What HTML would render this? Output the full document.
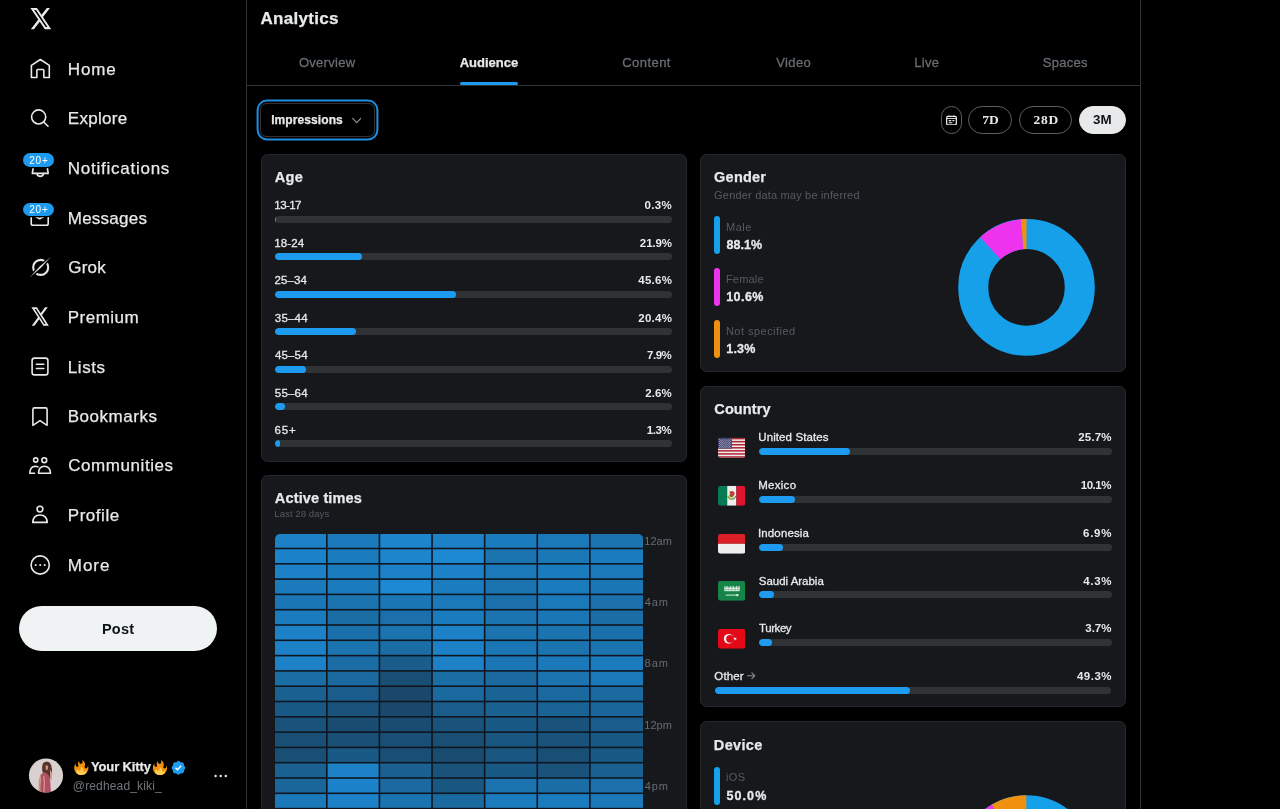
<!DOCTYPE html>
<html lang="en">
<head>
<meta charset="utf-8">
<title>Analytics / X</title>
<style>
*{box-sizing:border-box;margin:0;padding:0}
html,body{width:1280px;height:809px;overflow:hidden;background:#000}
body{position:relative;font-family:"Liberation Sans",sans-serif;color:#e7e9ea;-webkit-font-smoothing:antialiased}
.abs{position:absolute}
.t{position:absolute;white-space:nowrap;display:block}
.vline{position:absolute;top:0;width:1px;height:809px;background:#2f3336}
.hline{position:absolute;height:1px;background:#2f3336}
.card{position:absolute;background:#16181c;border:1px solid #25282d;border-radius:6.5px}
.trk{position:absolute;background:#2f3336;border-radius:4px;overflow:hidden}
.fil{height:100%;background:#1d9bf0;border-radius:4px}
.lg{position:absolute;width:6px;height:38px;border-radius:3px}
.pill{position:absolute;top:106.2px;height:27.4px;border:1px solid #5b6066;border-radius:14px}
.badge{position:absolute;left:22.7px;width:31.4px;height:13.4px;border-radius:7px;background:#1d9bf0;box-shadow:0 0 0 1.2px #000}
</style>
</head>
<body>
<!-- column borders -->
<div class="vline" style="left:246px"></div>
<div class="vline" style="left:1140px"></div>
<div class="hline" style="left:247px;top:85px;width:893px"></div>
<!-- active tab underline -->
<div class="abs" style="left:460px;top:81.7px;width:58px;height:3.6px;border-radius:1.6px;background:#1d9bf0"></div>

<!-- Impressions select -->
<div class="abs" style="left:260px;top:102.5px;width:114.5px;height:34.5px;border:1px solid #38302e;border-radius:7px;box-shadow:0 0 0 1.4px #000,0 0 0 3.4px #1d8fe0"></div>
<svg class="abs" style="left:351.6px;top:116.5px" width="9.4" height="7.6" viewBox="0 0 9.4 7.6"><path d="M0.7 1.4L4.7 5.6L8.7 1.4" fill="none" stroke="#8b9096" stroke-width="1.2" stroke-linecap="round" stroke-linejoin="round"/></svg>

<!-- range pills -->
<div class="pill" style="left:941px;width:20.6px"></div>
<div class="pill" style="left:968.1px;width:44.4px"></div>
<div class="pill" style="left:1019.1px;width:53.3px"></div>
<div class="pill" style="left:1078.8px;width:47.3px;background:#e7e9ea;border-color:#e7e9ea"></div>
<svg class="abs" style="left:945.8px;top:114.5px" width="11" height="10.6" viewBox="0 0 11 10.6"><rect x="0.65" y="1.5" width="9.7" height="8.4" rx="1.3" fill="none" stroke="#e7e9ea" stroke-width="1.25"/><path d="M0.7 3.5h9.6" stroke="#e7e9ea" stroke-width="0.9"/><path d="M2.9 0.4v1.4M8.1 0.4v1.4" stroke="#e7e9ea" stroke-width="1.2"/><path d="M2.7 5.7h2.6M6.4 5.7h1.9M2.7 7.8h3.6" stroke="#e7e9ea" stroke-width="1.15"/></svg>

<!-- cards -->
<div class="card" style="left:260.5px;top:154px;width:426px;height:307.5px"></div>
<div class="card" style="left:260.5px;top:475.3px;width:426px;height:360px"></div>
<div class="card" style="left:700px;top:154px;width:426px;height:218px"></div>
<div class="card" style="left:700px;top:386.2px;width:426px;height:321px"></div>
<div class="card" style="left:700px;top:721px;width:426px;height:120px"></div>

<div class="trk" style="left:275.00px;top:216.00px;width:397.00px;height:7.00px"><div class="fil" style="width:1.19px"></div></div>
<div class="trk" style="left:275.00px;top:253.40px;width:397.00px;height:7.00px"><div class="fil" style="width:86.94px"></div></div>
<div class="trk" style="left:275.00px;top:290.80px;width:397.00px;height:7.00px"><div class="fil" style="width:181.03px"></div></div>
<div class="trk" style="left:275.00px;top:328.20px;width:397.00px;height:7.00px"><div class="fil" style="width:80.99px"></div></div>
<div class="trk" style="left:275.00px;top:365.60px;width:397.00px;height:7.00px"><div class="fil" style="width:31.36px"></div></div>
<div class="trk" style="left:275.00px;top:403.00px;width:397.00px;height:7.00px"><div class="fil" style="width:10.32px"></div></div>
<div class="trk" style="left:275.00px;top:440.40px;width:397.00px;height:7.00px"><div class="fil" style="width:5.16px"></div></div>
<div class="trk" style="left:759.00px;top:448.30px;width:352.50px;height:7.00px"><div class="fil" style="width:90.59px"></div></div>
<div class="trk" style="left:759.00px;top:495.98px;width:352.50px;height:7.00px"><div class="fil" style="width:35.60px"></div></div>
<div class="trk" style="left:759.00px;top:543.66px;width:352.50px;height:7.00px"><div class="fil" style="width:24.32px"></div></div>
<div class="trk" style="left:759.00px;top:591.34px;width:352.50px;height:7.00px"><div class="fil" style="width:15.16px"></div></div>
<div class="trk" style="left:759.00px;top:639.02px;width:352.50px;height:7.00px"><div class="fil" style="width:13.04px"></div></div>
<div class="trk" style="left:714.60px;top:686.70px;width:396.90px;height:7.00px"><div class="fil" style="width:195.67px"></div></div>
<svg class="abs" style="left:274.80px;top:534.00px" width="368.30" height="277.00" viewBox="0 0 368.30 277.00"><defs><clipPath id="hmc"><path d="M0 5a5 5 0 0 1 5-5H363.30a5 5 0 0 1 5 5V277.00H0z"/></clipPath></defs><g clip-path="url(#hmc)"><rect x="0" y="0" width="368.30" height="277.00" fill="#0f1620"/><rect x="0.00" y="0.00" width="51.01" height="13.70" fill="#1c81c6"/><rect x="52.61" y="0.00" width="51.01" height="13.70" fill="#1b7abb"/><rect x="105.23" y="0.00" width="51.01" height="13.70" fill="#1c85cc"/><rect x="157.84" y="0.00" width="51.01" height="13.70" fill="#1c81c6"/><rect x="210.46" y="0.00" width="51.01" height="13.70" fill="#1b7cbd"/><rect x="263.07" y="0.00" width="51.01" height="13.70" fill="#1b79b9"/><rect x="315.69" y="0.00" width="52.61" height="13.70" fill="#1b74b0"/><rect x="0.00" y="15.30" width="51.01" height="13.70" fill="#1c83ca"/><rect x="52.61" y="15.30" width="51.01" height="13.70" fill="#1b7cbd"/><rect x="105.23" y="15.30" width="51.01" height="13.70" fill="#1c85cc"/><rect x="157.84" y="15.30" width="51.01" height="13.70" fill="#1c89d2"/><rect x="210.46" y="15.30" width="51.01" height="13.70" fill="#1b74b0"/><rect x="263.07" y="15.30" width="51.01" height="13.70" fill="#1b78b7"/><rect x="315.69" y="15.30" width="52.61" height="13.70" fill="#1b7cbd"/><rect x="0.00" y="30.60" width="51.01" height="13.70" fill="#1c81c6"/><rect x="52.61" y="30.60" width="51.01" height="13.70" fill="#1b7cbd"/><rect x="105.23" y="30.60" width="51.01" height="13.70" fill="#1c81c6"/><rect x="157.84" y="30.60" width="51.01" height="13.70" fill="#1c81c6"/><rect x="210.46" y="30.60" width="51.01" height="13.70" fill="#1b79b9"/><rect x="263.07" y="30.60" width="51.01" height="13.70" fill="#1b7cbd"/><rect x="315.69" y="30.60" width="52.61" height="13.70" fill="#1b79b9"/><rect x="0.00" y="45.90" width="51.01" height="13.70" fill="#1b7abb"/><rect x="52.61" y="45.90" width="51.01" height="13.70" fill="#1b7cbd"/><rect x="105.23" y="45.90" width="51.01" height="13.70" fill="#1c89d2"/><rect x="157.84" y="45.90" width="51.01" height="13.70" fill="#1b7dbf"/><rect x="210.46" y="45.90" width="51.01" height="13.70" fill="#1b74b0"/><rect x="263.07" y="45.90" width="51.01" height="13.70" fill="#1b7cbd"/><rect x="315.69" y="45.90" width="52.61" height="13.70" fill="#1b76b5"/><rect x="0.00" y="61.20" width="51.01" height="13.70" fill="#1b76b5"/><rect x="52.61" y="61.20" width="51.01" height="13.70" fill="#1b74b0"/><rect x="105.23" y="61.20" width="51.01" height="13.70" fill="#1b76b5"/><rect x="157.84" y="61.20" width="51.01" height="13.70" fill="#1b79b9"/><rect x="210.46" y="61.20" width="51.01" height="13.70" fill="#1b70ab"/><rect x="263.07" y="61.20" width="51.01" height="13.70" fill="#1b79b9"/><rect x="315.69" y="61.20" width="52.61" height="13.70" fill="#1b70ab"/><rect x="0.00" y="76.50" width="51.01" height="13.70" fill="#1b7cbd"/><rect x="52.61" y="76.50" width="51.01" height="13.70" fill="#1b6da6"/><rect x="105.23" y="76.50" width="51.01" height="13.70" fill="#1b70ab"/><rect x="157.84" y="76.50" width="51.01" height="13.70" fill="#1b7cbd"/><rect x="210.46" y="76.50" width="51.01" height="13.70" fill="#1b74b0"/><rect x="263.07" y="76.50" width="51.01" height="13.70" fill="#1b76b5"/><rect x="315.69" y="76.50" width="52.61" height="13.70" fill="#1b6da6"/><rect x="0.00" y="91.80" width="51.01" height="13.70" fill="#1c81c6"/><rect x="52.61" y="91.80" width="51.01" height="13.70" fill="#1b70ab"/><rect x="105.23" y="91.80" width="51.01" height="13.70" fill="#1b74b0"/><rect x="157.84" y="91.80" width="51.01" height="13.70" fill="#1c81c6"/><rect x="210.46" y="91.80" width="51.01" height="13.70" fill="#1b74b0"/><rect x="263.07" y="91.80" width="51.01" height="13.70" fill="#1b74b0"/><rect x="315.69" y="91.80" width="52.61" height="13.70" fill="#1b70ab"/><rect x="0.00" y="107.10" width="51.01" height="13.70" fill="#1c81c6"/><rect x="52.61" y="107.10" width="51.01" height="13.70" fill="#1b74b0"/><rect x="105.23" y="107.10" width="51.01" height="13.70" fill="#1b6da6"/><rect x="157.84" y="107.10" width="51.01" height="13.70" fill="#1c81c6"/><rect x="210.46" y="107.10" width="51.01" height="13.70" fill="#1b76b5"/><rect x="263.07" y="107.10" width="51.01" height="13.70" fill="#1b74b0"/><rect x="315.69" y="107.10" width="52.61" height="13.70" fill="#1b74b0"/><rect x="0.00" y="122.40" width="51.01" height="13.70" fill="#1c81c6"/><rect x="52.61" y="122.40" width="51.01" height="13.70" fill="#1b6da6"/><rect x="105.23" y="122.40" width="51.01" height="13.70" fill="#1a5c8b"/><rect x="157.84" y="122.40" width="51.01" height="13.70" fill="#1c81c6"/><rect x="210.46" y="122.40" width="51.01" height="13.70" fill="#1b76b5"/><rect x="263.07" y="122.40" width="51.01" height="13.70" fill="#1b79b9"/><rect x="315.69" y="122.40" width="52.61" height="13.70" fill="#1b7cbd"/><rect x="0.00" y="137.70" width="51.01" height="13.70" fill="#1b6da6"/><rect x="52.61" y="137.70" width="51.01" height="13.70" fill="#1a6aa0"/><rect x="105.23" y="137.70" width="51.01" height="13.70" fill="#194f75"/><rect x="157.84" y="137.70" width="51.01" height="13.70" fill="#1b6da6"/><rect x="210.46" y="137.70" width="51.01" height="13.70" fill="#1a6aa0"/><rect x="263.07" y="137.70" width="51.01" height="13.70" fill="#1b74b0"/><rect x="315.69" y="137.70" width="52.61" height="13.70" fill="#1b79b9"/><rect x="0.00" y="153.00" width="51.01" height="13.70" fill="#1a6090"/><rect x="52.61" y="153.00" width="51.01" height="13.70" fill="#1a5c8b"/><rect x="105.23" y="153.00" width="51.01" height="13.70" fill="#19486a"/><rect x="157.84" y="153.00" width="51.01" height="13.70" fill="#1a6aa0"/><rect x="210.46" y="153.00" width="51.01" height="13.70" fill="#1a6395"/><rect x="263.07" y="153.00" width="51.01" height="13.70" fill="#1a6aa0"/><rect x="315.69" y="153.00" width="52.61" height="13.70" fill="#1a6aa0"/><rect x="0.00" y="168.30" width="51.01" height="13.70" fill="#195985"/><rect x="52.61" y="168.30" width="51.01" height="13.70" fill="#19527a"/><rect x="105.23" y="168.30" width="51.01" height="13.70" fill="#19486a"/><rect x="157.84" y="168.30" width="51.01" height="13.70" fill="#1a5c8b"/><rect x="210.46" y="168.30" width="51.01" height="13.70" fill="#1a6090"/><rect x="263.07" y="168.30" width="51.01" height="13.70" fill="#1a6395"/><rect x="315.69" y="168.30" width="52.61" height="13.70" fill="#1a669b"/><rect x="0.00" y="183.60" width="51.01" height="13.70" fill="#19527a"/><rect x="52.61" y="183.60" width="51.01" height="13.70" fill="#194c70"/><rect x="105.23" y="183.60" width="51.01" height="13.70" fill="#194c70"/><rect x="157.84" y="183.60" width="51.01" height="13.70" fill="#19527a"/><rect x="210.46" y="183.60" width="51.01" height="13.70" fill="#195985"/><rect x="263.07" y="183.60" width="51.01" height="13.70" fill="#19527a"/><rect x="315.69" y="183.60" width="52.61" height="13.70" fill="#1a5c8b"/><rect x="0.00" y="198.90" width="51.01" height="13.70" fill="#194f75"/><rect x="52.61" y="198.90" width="51.01" height="13.70" fill="#194f75"/><rect x="105.23" y="198.90" width="51.01" height="13.70" fill="#194f75"/><rect x="157.84" y="198.90" width="51.01" height="13.70" fill="#194f75"/><rect x="210.46" y="198.90" width="51.01" height="13.70" fill="#195680"/><rect x="263.07" y="198.90" width="51.01" height="13.70" fill="#19527a"/><rect x="315.69" y="198.90" width="52.61" height="13.70" fill="#195985"/><rect x="0.00" y="214.20" width="51.01" height="13.70" fill="#194f75"/><rect x="52.61" y="214.20" width="51.01" height="13.70" fill="#195985"/><rect x="105.23" y="214.20" width="51.01" height="13.70" fill="#194f75"/><rect x="157.84" y="214.20" width="51.01" height="13.70" fill="#194c70"/><rect x="210.46" y="214.20" width="51.01" height="13.70" fill="#195680"/><rect x="263.07" y="214.20" width="51.01" height="13.70" fill="#194f75"/><rect x="315.69" y="214.20" width="52.61" height="13.70" fill="#195985"/><rect x="0.00" y="229.50" width="51.01" height="13.70" fill="#1a6090"/><rect x="52.61" y="229.50" width="51.01" height="13.70" fill="#1c81c6"/><rect x="105.23" y="229.50" width="51.01" height="13.70" fill="#1a6090"/><rect x="157.84" y="229.50" width="51.01" height="13.70" fill="#19527a"/><rect x="210.46" y="229.50" width="51.01" height="13.70" fill="#195985"/><rect x="263.07" y="229.50" width="51.01" height="13.70" fill="#19527a"/><rect x="315.69" y="229.50" width="52.61" height="13.70" fill="#1a6090"/><rect x="0.00" y="244.80" width="51.01" height="13.70" fill="#1a669b"/><rect x="52.61" y="244.80" width="51.01" height="13.70" fill="#1c83ca"/><rect x="105.23" y="244.80" width="51.01" height="13.70" fill="#1a6aa0"/><rect x="157.84" y="244.80" width="51.01" height="13.70" fill="#195680"/><rect x="210.46" y="244.80" width="51.01" height="13.70" fill="#1b74b0"/><rect x="263.07" y="244.80" width="51.01" height="13.70" fill="#1b6da6"/><rect x="315.69" y="244.80" width="52.61" height="13.70" fill="#1b70ab"/><rect x="0.00" y="260.10" width="51.01" height="13.70" fill="#1b79b9"/><rect x="52.61" y="260.10" width="51.01" height="13.70" fill="#1c81c6"/><rect x="105.23" y="260.10" width="51.01" height="13.70" fill="#1b74b0"/><rect x="157.84" y="260.10" width="51.01" height="13.70" fill="#1a6aa0"/><rect x="210.46" y="260.10" width="51.01" height="13.70" fill="#1b7cbd"/><rect x="263.07" y="260.10" width="51.01" height="13.70" fill="#1b7cbd"/><rect x="315.69" y="260.10" width="52.61" height="13.70" fill="#1b79b9"/></g></svg>
<svg class="abs" style="left:0;top:0" width="1280" height="809" viewBox="0 0 1280 809"><circle cx="1026.5" cy="287.4" r="53.3" fill="none" stroke="#16a0ea" stroke-width="30"/><path d="M980.06 237.32A68.3 68.3 0 0 1 1020.93 219.33L1023.38 249.23A38.3 38.3 0 0 0 1000.46 259.32Z" fill="#ee33ee"/><path d="M1020.93 219.33A68.3 68.3 0 0 1 1026.50 219.10L1026.50 249.10A38.3 38.3 0 0 0 1023.38 249.23Z" fill="#f0900f"/><circle cx="1026.3" cy="863.5" r="53.3" fill="none" stroke="#16a0ea" stroke-width="30"/><path d="M1026.30 931.80A68.3 68.3 0 0 1 991.90 804.49L1007.01 830.41A38.3 38.3 0 0 0 1026.30 901.80Z" fill="#ee33ee"/><path d="M991.90 804.49A68.3 68.3 0 0 1 1026.30 795.20L1026.30 825.20A38.3 38.3 0 0 0 1007.01 830.41Z" fill="#f0900f"/></svg>
<div class="lg" style="left:714.1px;top:216px;background:#16a0ea"></div><div class="lg" style="left:714.1px;top:268px;background:#ee33ee"></div><div class="lg" style="left:714.1px;top:320px;background:#f0900f"></div><div class="lg" style="left:714.1px;top:767px;background:#16a0ea"></div>

<!-- Other arrow -->
<svg class="abs" style="left:747.4px;top:672.4px" width="8.6" height="7.6" viewBox="0 0 8.6 7.6"><path d="M0.4 3.8H7.8M4.9 0.9L7.8 3.8L4.9 6.7" fill="none" stroke="#8b9096" stroke-width="1.1" stroke-linecap="round" stroke-linejoin="round"/></svg>

<svg class="abs" style="left:717.8px;top:434.30px" width="27.6" height="27.6" viewBox="0 0 36 36"><defs><clipPath id="fc0"><rect x="0" y="5" width="36" height="26" rx="4"/></clipPath></defs><g clip-path="url(#fc0)"><rect x="0" y="5" width="36" height="26" fill="#eee"/><rect x="0" y="5" width="36" height="2" fill="#b22334"/><rect x="0" y="9" width="36" height="2" fill="#b22334"/><rect x="0" y="13" width="36" height="2" fill="#b22334"/><rect x="0" y="17" width="36" height="2" fill="#b22334"/><rect x="0" y="21" width="36" height="2" fill="#b22334"/><rect x="0" y="25" width="36" height="2" fill="#b22334"/><rect x="0" y="29" width="36" height="2" fill="#b22334"/><rect x="0" y="5" width="18" height="14" fill="#3c3b6e"/><g fill="#fff"><circle cx="2.2" cy="6.7" r="0.62"/><circle cx="5.0" cy="6.7" r="0.62"/><circle cx="7.7" cy="6.7" r="0.62"/><circle cx="10.4" cy="6.7" r="0.62"/><circle cx="13.2" cy="6.7" r="0.62"/><circle cx="15.9" cy="6.7" r="0.62"/><circle cx="2.2" cy="9.4" r="0.62"/><circle cx="5.0" cy="9.4" r="0.62"/><circle cx="7.7" cy="9.4" r="0.62"/><circle cx="10.4" cy="9.4" r="0.62"/><circle cx="13.2" cy="9.4" r="0.62"/><circle cx="15.9" cy="9.4" r="0.62"/><circle cx="2.2" cy="12.1" r="0.62"/><circle cx="5.0" cy="12.1" r="0.62"/><circle cx="7.7" cy="12.1" r="0.62"/><circle cx="10.4" cy="12.1" r="0.62"/><circle cx="13.2" cy="12.1" r="0.62"/><circle cx="15.9" cy="12.1" r="0.62"/><circle cx="2.2" cy="14.8" r="0.62"/><circle cx="5.0" cy="14.8" r="0.62"/><circle cx="7.7" cy="14.8" r="0.62"/><circle cx="10.4" cy="14.8" r="0.62"/><circle cx="13.2" cy="14.8" r="0.62"/><circle cx="15.9" cy="14.8" r="0.62"/><circle cx="2.2" cy="17.5" r="0.62"/><circle cx="5.0" cy="17.5" r="0.62"/><circle cx="7.7" cy="17.5" r="0.62"/><circle cx="10.4" cy="17.5" r="0.62"/><circle cx="13.2" cy="17.5" r="0.62"/><circle cx="15.9" cy="17.5" r="0.62"/><circle cx="3.6" cy="8.1" r="0.62"/><circle cx="6.3" cy="8.1" r="0.62"/><circle cx="9.1" cy="8.1" r="0.62"/><circle cx="11.8" cy="8.1" r="0.62"/><circle cx="14.6" cy="8.1" r="0.62"/><circle cx="3.6" cy="10.8" r="0.62"/><circle cx="6.3" cy="10.8" r="0.62"/><circle cx="9.1" cy="10.8" r="0.62"/><circle cx="11.8" cy="10.8" r="0.62"/><circle cx="14.6" cy="10.8" r="0.62"/><circle cx="3.6" cy="13.5" r="0.62"/><circle cx="6.3" cy="13.5" r="0.62"/><circle cx="9.1" cy="13.5" r="0.62"/><circle cx="11.8" cy="13.5" r="0.62"/><circle cx="14.6" cy="13.5" r="0.62"/><circle cx="3.6" cy="16.2" r="0.62"/><circle cx="6.3" cy="16.2" r="0.62"/><circle cx="9.1" cy="16.2" r="0.62"/><circle cx="11.8" cy="16.2" r="0.62"/><circle cx="14.6" cy="16.2" r="0.62"/></g></g></svg>
<svg class="abs" style="left:717.8px;top:482.00px" width="27.6" height="27.6" viewBox="0 0 36 36"><defs><clipPath id="fc1"><rect x="0" y="5" width="36" height="26" rx="4"/></clipPath></defs><g clip-path="url(#fc1)"><rect x="0" y="5" width="12" height="26" fill="#067a50"/><rect x="12" y="5" width="12" height="26" fill="#eee"/><rect x="24" y="5" width="12" height="26" fill="#dd1530"/><path d="M12.9 18.2a5.2 5.2 0 0 0 10.2 0" fill="none" stroke="#5c913b" stroke-width="1.5"/><path d="M15.400 12.400c2.000-1.500 5.000-0.800 5.800 1.500c0.600 2.100-0.300 4.500-2.300 5.700c-1.500 0.900-3.300 0.400-3.900-1.100c-0.500-1.300 0-2.500 1.000-3.300c-1.100-0.400-1.500-1.900-0.600-2.800z" fill="#a6572a"/><circle cx="19.6" cy="14.6" r="1.9" fill="#dd2e44"/><circle cx="16.2" cy="20.4" r="1.1" fill="#ffcc4d"/><circle cx="19.8" cy="21.2" r="1.0" fill="#55acee"/></g></svg>
<svg class="abs" style="left:717.8px;top:529.70px" width="27.6" height="27.6" viewBox="0 0 36 36"><defs><clipPath id="fc2"><rect x="0" y="5" width="36" height="26" rx="4"/></clipPath></defs><g clip-path="url(#fc2)"><rect x="0" y="5" width="36" height="13" fill="#dc1f26"/><rect x="0" y="18" width="36" height="13" fill="#eee"/></g></svg>
<svg class="abs" style="left:717.8px;top:577.40px" width="27.6" height="27.6" viewBox="0 0 36 36"><defs><clipPath id="fc3"><rect x="0" y="5" width="36" height="26" rx="4"/></clipPath></defs><g clip-path="url(#fc3)"><rect x="0" y="5" width="36" height="26" fill="#158446"/><g stroke="#fff" fill="none" stroke-width="1.05" stroke-linecap="round"><path d="M9 12.2v5.6M10.9 12.8v4.2M12.8 12.2v5.600M14.700 13.400v4.400M16.600 12.200v5.600M18.500 13.000v4.800M20.400 12.200v5.600M22.300 13.400v4.400M24.200 12.200v5.600M26.100 12.800v5.000M27.600 12.200v5.600"/><path d="M8.6 14.9h19.2M8.8 17.9h18.600" stroke-width="0.9"/><path d="M10.5 23.6h14.2" stroke-width="1.1"/></g><path d="M24.2 21.8l3.400 1.800l-3.400 1.800z" fill="#fff"/></g></svg>
<svg class="abs" style="left:717.8px;top:625.10px" width="27.6" height="27.6" viewBox="0 0 36 36"><defs><clipPath id="fc4"><rect x="0" y="5" width="36" height="26" rx="4"/></clipPath></defs><g clip-path="url(#fc4)"><rect x="0" y="5" width="36" height="26" fill="#e30917"/><circle cx="14" cy="18" r="6.4" fill="#eee"/><circle cx="15.8" cy="18" r="5.1" fill="#e30917"/><polygon points="19.70,18.00 21.50,17.42 21.50,15.53 22.61,17.06 24.40,16.47 23.29,18.00 24.40,19.53 22.61,18.94 21.50,20.47 21.50,18.58" fill="#eee"/></g></svg>

<!-- post button -->
<div class="abs" style="left:18.6px;top:606.4px;width:198.6px;height:44.6px;border-radius:23px;background:#eff3f4"></div>

<svg class="abs" style="left:0;top:0" width="246" height="809" viewBox="0 0 246 809" fill="none" stroke="#e7e9ea" stroke-width="1.6" stroke-linecap="round" stroke-linejoin="round">
<!-- X logo : standard glyph stretched to measured box 30.4..51.2 x 7.9..29.2 -->
<g transform="translate(30.4 7.9) scale(0.9642 1.0923) translate(-1.254 -2.25)" stroke="none" fill="#e7e9ea"><path d="M18.244 2.25h3.308l-7.227 8.26 8.502 11.24H16.17l-5.214-6.817L4.99 21.75H1.68l7.73-8.835L1.254 2.25H8.08l4.713 6.231zm-1.161 17.52h1.833L7.084 4.126H5.117z"/></g>
<!-- Home -->
<path d="M31.4 65.4L40.35 59.5L49.3 65.4V77.5H43.85V70.4a0.9 0.9 0 0 0-0.9-0.9H37.75a0.9 0.9 0 0 0-0.9 0.9V77.5H31.4Z"/>
<!-- Explore -->
<circle cx="38.65" cy="116.95" r="7.05"/><path d="M43.7 122L48 126.2"/>
<!-- Notifications bell -->
<path d="M33.4 166.5L32.3 173.4H48.2L47.1 166.5C46.6 162.1 43.9 159.3 40.25 159.3C36.6 159.3 33.9 162.1 33.4 166.5Z"/><path d="M36.9 173.6a3.4 3.4 0 0 0 6.7 0"/>
<!-- Messages envelope -->
<rect x="31.2" y="209.6" width="17" height="15.6" rx="1.8"/><path d="M31.6 214.3L39.7 218.7L47.8 214.3"/>
<!-- Grok -->
<circle cx="40.7" cy="267.4" r="7.5" stroke-width="2.1"/>
<path d="M30.6 276.6L50.4 257.4" stroke="#000" stroke-width="3.8" stroke-linecap="butt"/>
<path d="M29.9 277.2L39.7 266.5L50.7 257L40.9 267.7Z" fill="#e7e9ea" stroke="none"/>
<!-- Premium X -->
<g transform="translate(31.4 307.2) scale(0.8066 0.9538) translate(-1.254 -2.25)" stroke="none" fill="#e7e9ea"><path d="M18.244 2.25h3.308l-7.227 8.26 8.502 11.24H16.17l-5.214-6.817L4.99 21.75H1.68l7.73-8.835L1.254 2.25H8.08l4.713 6.231zm-1.161 17.52h1.833L7.084 4.126H5.117z"/></g>
<!-- Lists -->
<rect x="32.1" y="358.1" width="15.8" height="16.8" rx="2.4"/><path d="M36.4 364.2H43.8M36.4 368.5H43.8"/>
<!-- Bookmarks -->
<path d="M32.9 409.4a1.5 1.5 0 0 1 1.5-1.5H45.6a1.5 1.5 0 0 1 1.5 1.5V425.3L40 420.6L32.9 425.3Z"/>
<!-- Communities -->
<circle cx="35.7" cy="460" r="2.1"/><circle cx="44.3" cy="460.2" r="2.4"/>
<path d="M38.5 473.2C38.7 468.6 41 466.3 44.3 466.3C47.6 466.3 50.2 468.6 50.5 473.2Z"/>
<path d="M34.6 473.2H29.8C30 469 32.2 466.4 35.3 466.3C36.3 466.3 37.2 466.5 38 466.9"/>
<!-- Profile -->
<circle cx="39.95" cy="509.1" r="2.9"/>
<path d="M32.7 522.4C33 517.6 35.8 515 40 515C44.2 515 47 517.6 47.3 522.4Z"/>
<!-- More -->
<circle cx="40.2" cy="565" r="9.1"/>
<g fill="#e7e9ea" stroke="none"><circle cx="35.7" cy="565" r="1.05"/><circle cx="40.2" cy="565" r="1.05"/><circle cx="44.7" cy="565" r="1.05"/></g>
<!-- account dots -->
<g fill="#e7e9ea" stroke="none"><circle cx="215.6" cy="776" r="1.2"/><circle cx="220.7" cy="776" r="1.2"/><circle cx="225.8" cy="776" r="1.2"/></g>
</svg>


<!-- notification badges -->
<div class="badge" style="top:153.3px"></div>
<div class="badge" style="top:202.6px"></div>

<svg class="abs" style="left:0;top:750px" width="246" height="59" viewBox="0 750 246 59">
<defs><clipPath id="avc"><circle cx="46" cy="775.5" r="17.1"/></clipPath>
<filter id="avb" x="-10%" y="-10%" width="120%" height="120%"><feGaussianBlur stdDeviation="0.7"/></filter>
<g id="fire"><path d="M35 19c0-2.062-.367-4.039-1.040-5.868-.46 5.389-3.333 8.157-6.335 6.868-2.812-1.208-.917-5.917-.777-8.164.236-3.809-.012-8.169-6.931-11.794 2.875 5.500.333 8.917-2.333 9.125-2.958.231-5.667-2.542-4.667-7.042-3.238 2.386-3.332 6.402-2.333 9 1.042 2.708-.042 4.958-2.583 5.208-2.840.280-4.418-3.041-2.963-8.333C2.520 10.965 1 14.805 1 19c0 9.389 7.611 17 17 17s17-7.611 17-17z" fill="#f4900c"/><path d="M28.394 23.999c.148 3.084-2.561 4.293-4.019 3.709-2.106-.843-1.541-2.291-2.083-5.291s-2.625-5.083-5.708-6c2.250 6.333-1.247 8.667-3.080 9.084-1.872.426-3.753-.001-3.968-4.007C7.352 23.668 6 26.676 6 30c0 .368.023.73.055 1.090C9.125 34.124 13.342 36 18 36s8.875-1.876 11.945-4.910c.032-.360.055-.722.055-1.090 0-2.187-.584-4.236-1.606-6.001z" fill="#ffcc4d"/></g>
</defs>
<g clip-path="url(#avc)"><rect x="28" y="757" width="36" height="37" fill="#d9d1d0"/>
<g filter="url(#avb)">
<path d="M43 763.5C44.5 761.2 48 761 50 763C52 766 52.5 771 51.5 776L49.5 779L42.5 772C42 768.5 42 765.5 43 763.5Z" fill="#54302a"/>
<path d="M41.5 773C40 775 38.8 779 38.6 783C38.4 787 39 790 39.5 793H43L42.5 781Z" fill="#c9917f"/>
<path d="M49.8 769L52.2 773.5L52 779.5L50.4 780.5Z" fill="#d3a08f"/>
<path d="M40.8 775.5C42 772.8 44 771.8 46.2 773C48 774 49.6 776 50 779C50.4 783 50.8 788 51 794H41C40.2 789 40.6 784 41.4 780.5Z" fill="#ad5163"/>
<path d="M43.6 776C44.6 780 44.4 787 43.6 793" stroke="#d98a98" stroke-width="1.4" fill="none"/>
<path d="M45.8 765.5C46.8 764.8 48 765.4 48.2 766.8C48.4 768.4 47.6 770 46.6 770.4C45.6 770 45.2 767 45.8 765.5Z" fill="#c99584"/>
</g></g>
<!-- fire emoji -->
<use href="#fire" transform="translate(73.8 760) scale(0.4167)"/>
<use href="#fire" transform="translate(152.5 760) scale(0.4167)"/>
<!-- verified -->
<g transform="translate(170.43 759.83) scale(0.729)"><path d="M20.396 11c-.018-.646-.215-1.275-.57-1.816-.354-.54-.852-.972-1.438-1.246.223-.607.27-1.264.14-1.897-.131-.634-.437-1.218-.882-1.687-.47-.445-1.053-.75-1.687-.882-.633-.13-1.290-.083-1.897.14-.273-.587-.704-1.086-1.245-1.440S11.647 1.620 11 1.604c-.646.017-1.273.213-1.813.568s-.969.854-1.240 1.440c-.608-.223-1.267-.272-1.902-.140-.635.130-1.220.436-1.690.882-.445.470-.749 1.055-.878 1.688-.13.633-.08 1.290.144 1.896-.587.274-1.087.705-1.443 1.245-.356.540-.555 1.170-.574 1.817.02.647.218 1.276.574 1.817.356.540.856.972 1.443 1.245-.224.606-.274 1.263-.144 1.896.130.634.433 1.218.877 1.688.470.443 1.054.747 1.687.878.633.132 1.290.084 1.897-.136.274.586.705 1.084 1.246 1.439.540.354 1.170.551 1.816.569.647-.016 1.276-.213 1.817-.567s.972-.854 1.245-1.440c.604.239 1.266.296 1.903.164.636-.132 1.220-.447 1.680-.907.460-.460.776-1.044.908-1.681s.075-1.299-.165-1.903c.586-.274 1.084-.705 1.439-1.246.354-.540.551-1.170.569-1.816z" fill="#1d9bf0"/><path d="M9.662 14.850l-3.429-3.428 1.293-1.302 2.072 2.072 4.400-4.794 1.347 1.246z" fill="#fff"/></g>
</svg>


<span class="t" id="nav0" style="font-size:17px;line-height:17px;top:61.00px;color:#e7e9ea;left:67.75px;letter-spacing:0.867px;-webkit-text-stroke:0.25px #e7e9ea">Home</span>
<span class="t" id="nav1" style="font-size:17px;line-height:17px;top:110.00px;color:#e7e9ea;left:67.75px;letter-spacing:0.292px;-webkit-text-stroke:0.25px #e7e9ea">Explore</span>
<span class="t" id="nav2" style="font-size:17px;line-height:17px;top:160.00px;color:#e7e9ea;left:67.75px;letter-spacing:0.750px;-webkit-text-stroke:0.25px #e7e9ea">Notifications</span>
<span class="t" id="nav3" style="font-size:17px;line-height:17px;top:210.00px;color:#e7e9ea;left:67.75px;letter-spacing:0.236px;-webkit-text-stroke:0.25px #e7e9ea">Messages</span>
<span class="t" id="nav4" style="font-size:17px;line-height:17px;top:259.00px;color:#e7e9ea;left:68.25px;letter-spacing:0.217px;-webkit-text-stroke:0.25px #e7e9ea">Grok</span>
<span class="t" id="nav5" style="font-size:17px;line-height:17px;top:309.00px;color:#e7e9ea;left:67.75px;letter-spacing:0.492px;-webkit-text-stroke:0.25px #e7e9ea">Premium</span>
<span class="t" id="nav6" style="font-size:17px;line-height:17px;top:359.00px;color:#e7e9ea;left:67.75px;letter-spacing:0.588px;-webkit-text-stroke:0.25px #e7e9ea">Lists</span>
<span class="t" id="nav7" style="font-size:17px;line-height:17px;top:408.00px;color:#e7e9ea;left:67.75px;letter-spacing:0.531px;-webkit-text-stroke:0.25px #e7e9ea">Bookmarks</span>
<span class="t" id="nav8" style="font-size:17px;line-height:17px;top:457.00px;color:#e7e9ea;left:68.25px;letter-spacing:0.560px;-webkit-text-stroke:0.25px #e7e9ea">Communities</span>
<span class="t" id="nav9" style="font-size:17px;line-height:17px;top:507.00px;color:#e7e9ea;left:67.75px;letter-spacing:0.542px;-webkit-text-stroke:0.25px #e7e9ea">Profile</span>
<span class="t" id="nav10" style="font-size:17px;line-height:17px;top:557.00px;color:#e7e9ea;left:67.75px;letter-spacing:0.967px;-webkit-text-stroke:0.25px #e7e9ea">More</span>
<span class="t" id="post" style="font-size:14.5px;line-height:14.5px;top:622.00px;color:#0f1419;font-weight:700;left:102.00px;letter-spacing:0.183px">Post</span>
<span class="t" id="name" style="font-size:13px;line-height:13px;top:760.00px;color:#e7e9ea;font-weight:700;left:91.00px;letter-spacing:-0.139px;-webkit-text-stroke:0.25px #e7e9ea">Your Kitty</span>
<span class="t" id="handle" style="font-size:12px;line-height:12px;top:780.00px;color:#71767b;left:72.80px;letter-spacing:0.154px">@redhead_kiki_</span>
<span class="t" id="badge1" style="font-size:10px;line-height:10px;top:156.00px;color:#fff;left:29.20px;letter-spacing:0.850px">20+</span>
<span class="t" id="badge2" style="font-size:10px;line-height:10px;top:205.00px;color:#fff;left:29.20px;letter-spacing:0.850px">20+</span>
<span class="t" id="title" style="font-size:17px;line-height:17px;top:10.00px;color:#e7e9ea;font-weight:700;left:260.55px;letter-spacing:0.281px;-webkit-text-stroke:0.25px #e7e9ea">Analytics</span>
<span class="t" id="tab0" style="font-size:13px;line-height:13px;top:56.00px;color:#686d72;left:298.90px;letter-spacing:0.286px;-webkit-text-stroke:0.3px #686d72">Overview</span>
<span class="t" id="tab1" style="font-size:13px;line-height:13px;top:56.00px;color:#e7e9ea;font-weight:700;left:459.75px;letter-spacing:-0.014px;-webkit-text-stroke:0.25px #e7e9ea">Audience</span>
<span class="t" id="tab2" style="font-size:13px;line-height:13px;top:56.00px;color:#686d72;left:622.20px;letter-spacing:0.458px;-webkit-text-stroke:0.3px #686d72">Content</span>
<span class="t" id="tab3" style="font-size:13px;line-height:13px;top:56.00px;color:#686d72;left:776.20px;letter-spacing:0.387px;-webkit-text-stroke:0.3px #686d72">Video</span>
<span class="t" id="tab4" style="font-size:13px;line-height:13px;top:56.00px;color:#686d72;left:914.20px;letter-spacing:0.300px;-webkit-text-stroke:0.3px #686d72">Live</span>
<span class="t" id="tab5" style="font-size:13px;line-height:13px;top:56.00px;color:#686d72;left:1042.80px;letter-spacing:0.280px;-webkit-text-stroke:0.3px #686d72">Spaces</span>
<span class="t" id="impr" style="font-size:12px;line-height:12px;top:114.00px;color:#e7e9ea;font-weight:700;left:271.15px;letter-spacing:0.090px;-webkit-text-stroke:0.25px #e7e9ea">Impressions</span>
<span class="t" id="b7d" style="font-size:13.5px;line-height:13.5px;top:113.00px;color:#e7e9ea;font-weight:700;left:982.15px;font-family:'Liberation Serif',serif">7D</span>
<span class="t" id="b28d" style="font-size:13.5px;line-height:13.5px;top:113.00px;color:#e7e9ea;font-weight:700;left:1033.40px;letter-spacing:0.800px;font-family:'Liberation Serif',serif">28D</span>
<span class="t" id="b3m" style="font-size:12px;line-height:12px;top:114.00px;color:#0f1419;font-weight:700;left:1093.15px;transform:scaleX(1.115);transform-origin:0 50%">3M</span>
<span class="t" id="age_t" style="font-size:14.5px;line-height:14.5px;top:170.00px;color:#e7e9ea;font-weight:700;left:274.85px;letter-spacing:0.275px;-webkit-text-stroke:0.25px #e7e9ea">Age</span>
<span class="t" id="agel0" style="font-size:11.5px;line-height:11.5px;top:200.00px;color:#e7e9ea;left:274.35px;letter-spacing:-0.562px;-webkit-text-stroke:0.3px #e7e9ea">13-17</span>
<span class="t" id="agev0" style="font-size:11.5px;line-height:11.5px;top:200.00px;color:#e7e9ea;font-weight:700;right:607.78px;letter-spacing:0.400px">0.3%</span>
<span class="t" id="agel1" style="font-size:11.5px;line-height:11.5px;top:238.00px;color:#e7e9ea;left:274.35px;letter-spacing:0.100px;-webkit-text-stroke:0.3px #e7e9ea">18-24</span>
<span class="t" id="agev1" style="font-size:11.5px;line-height:11.5px;top:238.00px;color:#e7e9ea;font-weight:700;right:608.16px;letter-spacing:-0.125px">21.9%</span>
<span class="t" id="agel2" style="font-size:11.5px;line-height:11.5px;top:275.00px;color:#e7e9ea;left:274.60px;letter-spacing:0.062px;-webkit-text-stroke:0.3px #e7e9ea">25–34</span>
<span class="t" id="agev2" style="font-size:11.5px;line-height:11.5px;top:275.00px;color:#e7e9ea;font-weight:700;right:607.76px;letter-spacing:0.275px">45.6%</span>
<span class="t" id="agel3" style="font-size:11.5px;line-height:11.5px;top:313.00px;color:#e7e9ea;left:274.85px;letter-spacing:0.175px;-webkit-text-stroke:0.3px #e7e9ea">35–44</span>
<span class="t" id="agev3" style="font-size:11.5px;line-height:11.5px;top:313.00px;color:#e7e9ea;font-weight:700;right:607.76px;letter-spacing:0.275px">20.4%</span>
<span class="t" id="agel4" style="font-size:11.5px;line-height:11.5px;top:350.00px;color:#e7e9ea;left:275.10px;letter-spacing:0.113px;-webkit-text-stroke:0.3px #e7e9ea">45–54</span>
<span class="t" id="agev4" style="font-size:11.5px;line-height:11.5px;top:350.00px;color:#e7e9ea;font-weight:700;right:608.65px;letter-spacing:-0.467px">7.9%</span>
<span class="t" id="agel5" style="font-size:11.5px;line-height:11.5px;top:388.00px;color:#e7e9ea;left:274.85px;letter-spacing:0.175px;-webkit-text-stroke:0.3px #e7e9ea">55–64</span>
<span class="t" id="agev5" style="font-size:11.5px;line-height:11.5px;top:388.00px;color:#e7e9ea;font-weight:700;right:608.10px;letter-spacing:0.083px">2.6%</span>
<span class="t" id="agel6" style="font-size:11.5px;line-height:11.5px;top:425.00px;color:#e7e9ea;left:274.60px;letter-spacing:0.775px;-webkit-text-stroke:0.3px #e7e9ea">65+</span>
<span class="t" id="agev6" style="font-size:11.5px;line-height:11.5px;top:425.00px;color:#e7e9ea;font-weight:700;right:608.56px;letter-spacing:-0.383px">1.3%</span>
<span class="t" id="gen_t" style="font-size:14.5px;line-height:14.5px;top:170.00px;color:#e7e9ea;font-weight:700;left:714.10px;letter-spacing:0.230px;-webkit-text-stroke:0.25px #e7e9ea">Gender</span>
<span class="t" id="gen_s" style="font-size:11px;line-height:11px;top:190.00px;color:#565b61;left:714.10px;letter-spacing:0.185px">Gender data may be inferred</span>
<span class="t" id="genl0" style="font-size:11px;line-height:11px;top:222.00px;color:#565b61;left:725.95px;letter-spacing:0.550px">Male</span>
<span class="t" id="genv0" style="font-size:12.5px;line-height:12.5px;top:239.00px;color:#e7e9ea;font-weight:700;left:726.45px;letter-spacing:0.075px;-webkit-text-stroke:0.3px #e7e9ea">88.1%</span>
<span class="t" id="genl1" style="font-size:11px;line-height:11px;top:274.00px;color:#565b61;left:725.95px;letter-spacing:0.200px">Female</span>
<span class="t" id="genv1" style="font-size:12.5px;line-height:12.5px;top:291.00px;color:#e7e9ea;font-weight:700;left:726.20px;letter-spacing:0.438px;-webkit-text-stroke:0.3px #e7e9ea">10.6%</span>
<span class="t" id="genl2" style="font-size:11px;line-height:11px;top:326.00px;color:#565b61;left:725.95px;letter-spacing:0.471px">Not specified</span>
<span class="t" id="genv2" style="font-size:12.5px;line-height:12.5px;top:343.00px;color:#e7e9ea;font-weight:700;left:726.20px;letter-spacing:0.250px;-webkit-text-stroke:0.3px #e7e9ea">1.3%</span>
<span class="t" id="cty_t" style="font-size:14.5px;line-height:14.5px;top:402.00px;color:#e7e9ea;font-weight:700;left:714.30px;letter-spacing:0.108px;-webkit-text-stroke:0.25px #e7e9ea">Country</span>
<span class="t" id="ctyl0" style="font-size:11.5px;line-height:11.5px;top:432.00px;color:#e7e9ea;left:758.25px;letter-spacing:0.100px;-webkit-text-stroke:0.3px #e7e9ea">United States</span>
<span class="t" id="ctyv0" style="font-size:11.5px;line-height:11.5px;top:432.00px;color:#e7e9ea;font-weight:700;right:168.26px;letter-spacing:0.175px">25.7%</span>
<span class="t" id="ctyl1" style="font-size:11.5px;line-height:11.5px;top:480.00px;color:#e7e9ea;left:758.25px;letter-spacing:0.270px;-webkit-text-stroke:0.3px #e7e9ea">Mexico</span>
<span class="t" id="ctyv1" style="font-size:11.5px;line-height:11.5px;top:480.00px;color:#e7e9ea;font-weight:700;right:168.86px;letter-spacing:-0.425px">10.1%</span>
<span class="t" id="ctyl2" style="font-size:11.5px;line-height:11.5px;top:528.00px;color:#e7e9ea;left:758.00px;letter-spacing:0.125px;-webkit-text-stroke:0.3px #e7e9ea">Indonesia</span>
<span class="t" id="ctyv2" style="font-size:11.5px;line-height:11.5px;top:528.00px;color:#e7e9ea;font-weight:700;right:167.85px;letter-spacing:0.733px">6.9%</span>
<span class="t" id="ctyl3" style="font-size:11.5px;line-height:11.5px;top:576.00px;color:#e7e9ea;left:758.75px;letter-spacing:-0.014px;-webkit-text-stroke:0.3px #e7e9ea">Saudi Arabia</span>
<span class="t" id="ctyv3" style="font-size:11.5px;line-height:11.5px;top:576.00px;color:#e7e9ea;font-weight:700;right:167.93px;letter-spacing:0.650px">4.3%</span>
<span class="t" id="ctyl4" style="font-size:11.5px;line-height:11.5px;top:623.00px;color:#e7e9ea;left:759.00px;letter-spacing:-0.420px;-webkit-text-stroke:0.3px #e7e9ea">Turkey</span>
<span class="t" id="ctyv4" style="font-size:11.5px;line-height:11.5px;top:623.00px;color:#e7e9ea;font-weight:700;right:168.63px;letter-spacing:-0.050px">3.7%</span>
<span class="t" id="oth" style="font-size:11.5px;line-height:11.5px;top:671.00px;color:#e7e9ea;left:714.35px;letter-spacing:0.125px;-webkit-text-stroke:0.3px #e7e9ea">Other</span>
<span class="t" id="othv" style="font-size:11.5px;line-height:11.5px;top:671.00px;color:#e7e9ea;font-weight:700;right:167.94px;letter-spacing:0.500px">49.3%</span>
<span class="t" id="act_t" style="font-size:14.5px;line-height:14.5px;top:491.00px;color:#e7e9ea;font-weight:700;left:274.85px;letter-spacing:0.141px;-webkit-text-stroke:0.25px #e7e9ea">Active times</span>
<span class="t" id="act_s" style="font-size:9.5px;line-height:9.5px;top:509.00px;color:#565b61;left:274.35px;letter-spacing:0.086px">Last 28 days</span>
<span class="t" id="hml0" style="font-size:11px;line-height:11px;top:536.00px;color:#676c71;left:644.25px;letter-spacing:0.067px">12am</span>
<span class="t" id="hml1" style="font-size:11px;line-height:11px;top:597.00px;color:#676c71;left:644.75px;letter-spacing:0.900px">4am</span>
<span class="t" id="hml2" style="font-size:11px;line-height:11px;top:658.00px;color:#676c71;left:644.50px;letter-spacing:1.025px">8am</span>
<span class="t" id="hml3" style="font-size:11px;line-height:11px;top:720.00px;color:#676c71;left:644.25px;letter-spacing:0.067px">12pm</span>
<span class="t" id="hml4" style="font-size:11px;line-height:11px;top:781.00px;color:#676c71;left:644.75px;letter-spacing:0.900px">4pm</span>
<span class="t" id="dev_t" style="font-size:14.5px;line-height:14.5px;top:738.00px;color:#e7e9ea;font-weight:700;left:713.85px;letter-spacing:0.350px;-webkit-text-stroke:0.25px #e7e9ea">Device</span>
<span class="t" id="devl" style="font-size:11px;line-height:11px;top:772.00px;color:#565b61;left:725.95px;letter-spacing:0.450px">iOS</span>
<span class="t" id="devv" style="font-size:12.5px;line-height:12.5px;top:790.00px;color:#e7e9ea;font-weight:700;left:726.45px;letter-spacing:1.100px;-webkit-text-stroke:0.3px #e7e9ea">50.0%</span>
</body>
</html>
